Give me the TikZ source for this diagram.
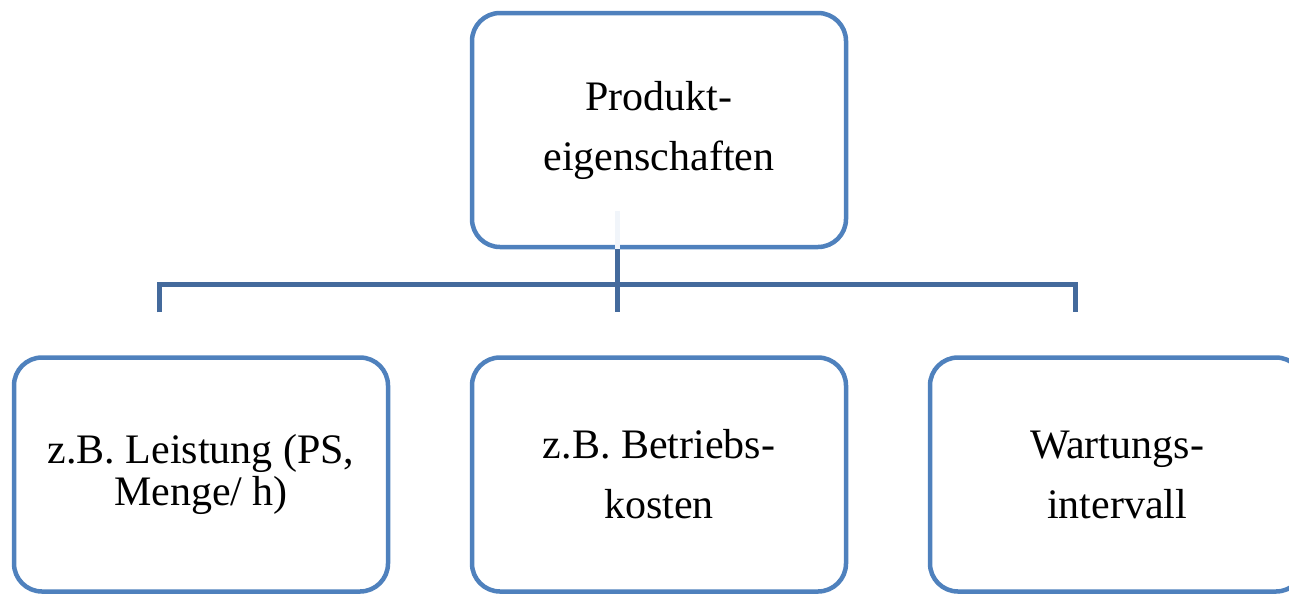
\documentclass[tikz,border=0pt]{standalone}
\usepackage{fontspec}
\setmainfont{Liberation Serif}
\usepackage{tikz}
\definecolor{boxblue}{RGB}{79,129,189}
\definecolor{linkblue}{RGB}{68,106,156}
\tikzset{
    box/.style={draw=boxblue, line width=4.5pt, rounded corners=28pt,
        minimum width=374pt, minimum height=234pt, align=center,
        font=\fontsize{42}{60}\selectfont},
    link/.style={draw=linkblue, line width=5pt}
}

\begin{document}
\begin{tikzpicture}[x=1pt,y=-1pt]
    \path[use as bounding box, clip] (0,0) rectangle (1289,595);

    \node[box] (eigen) at (659,130) {Produkt-\\eigenschaften};
    \node[box] (betrieb) [below of=eigen,node distance=344.5pt] {z.B. Betriebs-\\kosten};
    \node[box,font=\fontsize{42}{42}\selectfont] (leistung) [left of=betrieb,node distance=458pt] {z.B. Leistung (PS,\\Menge/ h)};
    \node[box] (wartung) [right of=betrieb,node distance=458pt] {Wartungs-\\intervall};

    % the tree sits a bit left of the box centres
    \coordinate (bar) at (617,284);
    \coordinate (leistung-stub) at ([xshift=-42pt,yshift=43pt]leistung.north);
    \coordinate (betrieb-stub) at ([xshift=-42pt,yshift=43pt]betrieb.north);
    \coordinate (wartung-stub) at ([xshift=-42pt,yshift=43pt]wartung.north);
    \coordinate (eigen-foot) at ([xshift=-42pt]eigen.south);
    \coordinate (faint-top) at ([xshift=-42pt,yshift=38pt]eigen.south);

    \draw[link,draw=boxblue!8] (faint-top) -- (eigen-foot);
    \draw[link] (eigen-foot) -- (betrieb-stub);
    \draw[link] (leistung-stub) -- (leistung-stub |- bar) -- (wartung-stub |- bar) -- (wartung-stub);
\end{tikzpicture}
\end{document}
